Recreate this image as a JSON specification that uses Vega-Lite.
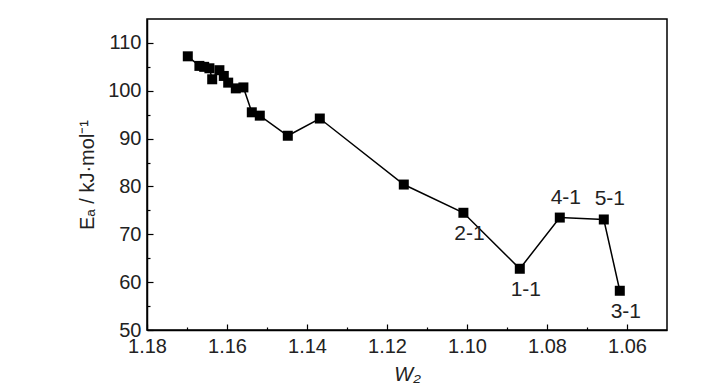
{
  "$schema": "https://vega.github.io/schema/vega-lite/v6.json",
  "width": 520,
  "height": 311,
  "autosize": {"type": "none"},
  "padding": {"left": 147, "top": 19, "right": 61, "bottom": 60},
  "background": "white",
  "config": {
    "view": {"stroke": "black", "strokeWidth": 1.5},
    "font": "Liberation Sans",
    "axis": {
      "domainColor": "black",
      "domainWidth": 1.5,
      "tickColor": "black",
      "tickWidth": 1.2,
      "grid": false,
      "labelFont": "Liberation Sans",
      "labelFontSize": 20,
      "labelColor": "#222",
      "titleFont": "Liberation Sans",
      "titleFontSize": 20,
      "titleColor": "#222",
      "titleFontWeight": "normal"
    }
  },
  "data": {
    "values": [
      {"w": 1.1698, "ea": 107.2, "label": "", "i": 1},
      {"w": 1.1669, "ea": 105.2, "label": "", "i": 2},
      {"w": 1.1657, "ea": 105.0, "label": "", "i": 3},
      {"w": 1.1644, "ea": 104.7, "label": "", "i": 4},
      {"w": 1.1637, "ea": 102.4, "label": "", "i": 5},
      {"w": 1.1619, "ea": 104.3, "label": "", "i": 6},
      {"w": 1.1608, "ea": 103.1, "label": "", "i": 7},
      {"w": 1.1597, "ea": 101.7, "label": "", "i": 8},
      {"w": 1.1578, "ea": 100.5, "label": "", "i": 9},
      {"w": 1.1559, "ea": 100.7, "label": "", "i": 10},
      {"w": 1.1538, "ea": 95.5, "label": "", "i": 11},
      {"w": 1.1518, "ea": 94.8, "label": "", "i": 12},
      {"w": 1.1448, "ea": 90.6, "label": "", "i": 13},
      {"w": 1.1368, "ea": 94.2, "label": "", "i": 14},
      {"w": 1.1158, "ea": 80.4, "label": "", "i": 15},
      {"w": 1.1009, "ea": 74.5, "label": "2-1", "i": 16},
      {"w": 1.0868, "ea": 62.8, "label": "1-1", "i": 17},
      {"w": 1.0768, "ea": 73.5, "label": "4-1", "i": 18},
      {"w": 1.0658, "ea": 73.1, "label": "5-1", "i": 19},
      {"w": 1.0618, "ea": 58.2, "label": "3-1", "i": 20}
    ]
  },
  "encoding": {
    "x": {
      "field": "w",
      "type": "quantitative",
      "scale": {"domain": [1.18, 1.05], "nice": false, "zero": false},
      "axis": {
        "title": "W₂",
        "titleFontStyle": "italic",
        "titlePadding": 8,
        "values": [1.18, 1.17, 1.16, 1.15, 1.14, 1.13, 1.12, 1.11, 1.10, 1.09, 1.08, 1.07, 1.06],
        "format": ".2f",
        "labelExpr": "round(datum.value * 100) % 2 === 0 ? datum.label : ''",
        "tickSize": {"condition": {"test": "round(datum.value * 100) % 2 !== 0", "value": -3}, "value": -6},
        "labelPadding": 12,
        "labelFlush": false
      }
    },
    "y": {
      "field": "ea",
      "type": "quantitative",
      "scale": {"domain": [50, 115], "nice": false, "zero": false},
      "axis": {
        "title": "Eₐ / kJ·mol⁻¹",
        "titlePadding": 10,
        "values": [50, 55, 60, 65, 70, 75, 80, 85, 90, 95, 100, 105, 110],
        "labelExpr": "datum.value % 10 === 0 ? datum.label : ''",
        "tickSize": {"condition": {"test": "datum.value % 10 !== 0", "value": -3}, "value": -6},
        "labelPadding": 12,
        "labelFlush": false
      }
    }
  },
  "layer": [
    {
      "mark": {"type": "line", "color": "black", "strokeWidth": 1.5},
      "encoding": {"order": {"field": "i", "type": "quantitative"}}
    },
    {
      "mark": {"type": "point", "shape": "square", "filled": true, "color": "black", "size": 100, "opacity": 1}
    },
    {
      "transform": [{"filter": "indexof(['2-1','1-1','3-1'], datum.label) >= 0"}],
      "mark": {"type": "text", "dy": 21, "dx": 6, "fontSize": 21, "color": "#222", "font": "Liberation Sans"},
      "encoding": {"text": {"field": "label"}}
    },
    {
      "transform": [{"filter": "indexof(['4-1','5-1'], datum.label) >= 0"}],
      "mark": {"type": "text", "dy": -20, "dx": 6, "fontSize": 21, "color": "#222", "font": "Liberation Sans"},
      "encoding": {"text": {"field": "label"}}
    }
  ]
}
